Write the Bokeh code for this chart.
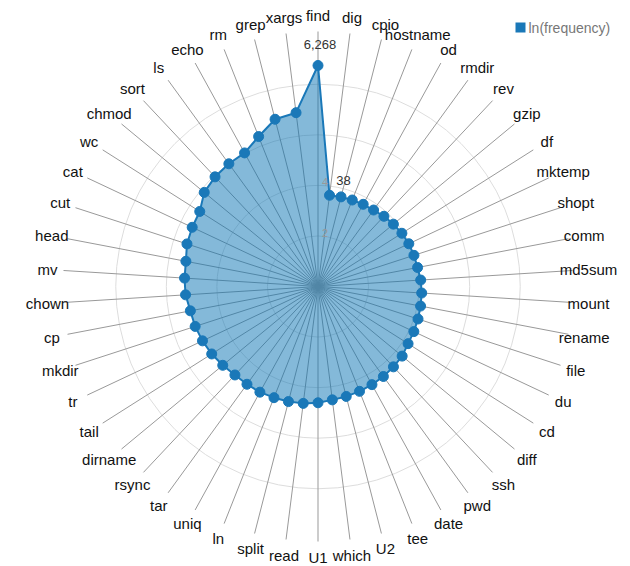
import numpy as np
from bokeh.plotting import figure
from bokeh.models import Range1d, Label, BoxAnnotation
from bokeh.core.properties import value
from bokeh.embed import file_html
from bokeh.resources import INLINE

# ---- data (clockwise from top) ----
commands = ["find", "dig", "cpio", "hostname", "od", "rmdir", "rev", "gzip", "df", "mktemp",
            "shopt", "comm", "md5sum", "mount", "rename", "file", "du", "cd", "diff", "ssh",
            "pwd", "date", "tee", "U2", "which", "U1", "read", "split", "ln", "uniq",
            "tar", "rsync", "dirname", "tail", "tr", "mkdir", "cp", "chown", "mv", "head",
            "cut", "cat", "wc", "chmod", "sort", "ls", "echo", "rm", "grep", "xargs"]
ln_freq = [8.743, 3.638, 3.66, 3.68, 3.71, 3.74, 3.81, 3.87, 3.93, 3.97,
           3.99, 4.01, 4.07, 4.11, 4.13, 4.16, 4.19, 4.22, 4.32, 4.36,
           4.40, 4.43, 4.46, 4.49, 4.52, 4.60, 4.66, 4.70, 4.73, 4.77,
           4.78, 4.80, 4.89, 4.98, 5.05, 5.11, 5.14, 5.25, 5.29, 5.32,
           5.45, 5.50, 5.54, 5.84, 5.95, 6.00, 6.03, 6.38, 6.83, 6.93]
series_name = "ln(frequency)"
max_label = "6,268"
min_label = "38"
grid_levels = [2, 4, 6, 8]
tick_values = [2, 4]
tick_labels = ["2", "4"]

# ---- layout ----
W, H = 630, 566
PX = 25.28            # pixels per unit
cx, cy = 317.5, 286   # centre in figure pixels
SPOKE_R = 255 / PX
LABEL_R = 271 / PX
LINE_C = "#1a78b8"
FILL_C = "#0a74b3"

p = figure(width=W, height=H,
           x_range=Range1d(-cx / PX, (W - cx) / PX),
           y_range=Range1d(-(H - cy) / PX, cy / PX),
           output_backend="svg", toolbar_location=None,
           x_axis_type=None, y_axis_type=None, min_border=0)
p.outline_line_color = None
p.grid.visible = False
p.background_fill_color = "white"
p.border_fill_color = "white"

n = len(commands)
ang = np.arange(n) * 2 * np.pi / n
sx, cy_ = np.sin(ang), np.cos(ang)
vals = np.array(ln_freq)

# grid circles
p.circle(x=[0] * len(grid_levels), y=[0] * len(grid_levels), radius=grid_levels,
         fill_color=None, line_color="#dddddd", line_width=1)

# spokes
p.segment(x0=np.zeros(n), y0=np.zeros(n), x1=SPOKE_R * sx, y1=SPOKE_R * cy_,
          line_color="#999999", line_width=1)

# area
px_, py_ = vals * sx, vals * cy_
p.patch(x=px_, y=py_, fill_color=FILL_C, fill_alpha=0.5,
        line_color=LINE_C, line_width=2)
p.scatter(x=px_, y=py_, size=10, marker="circle", fill_color=LINE_C,
          line_color=LINE_C)

# category labels
p.text(x=LABEL_R * sx, y=LABEL_R * cy_, text=commands, text_align="center",
       text_baseline="middle", text_font=value("Liberation Sans"),
       text_font_size="15px", text_color="#111111")

# radial tick labels
p.text(x=[0] * len(tick_values), y=tick_values, text=tick_labels, x_offset=7, y_offset=-3,
       text_align="center", text_baseline="middle", text_font=value("Liberation Sans"),
       text_font_size="11px", text_color="#999999")

# max / min value labels
i_max = int(np.argmax(vals)); i_min = int(np.argmin(vals))
p.text(x=[px_[i_max]], y=[py_[i_max]], text=[max_label], x_offset=2, y_offset=-21,
       text_align="center", text_baseline="middle", text_font=value("Liberation Sans"),
       text_font_size="13px", text_color="#333333")
p.text(x=[px_[i_min]], y=[py_[i_min]], text=[min_label], x_offset=14, y_offset=-15,
       text_align="center", text_baseline="middle", text_font=value("Liberation Sans"),
       text_font_size="13px", text_color="#333333")

# legend
p.add_layout(BoxAnnotation(left=515, right=525, top=H - 22, bottom=H - 32,
                           left_units="screen", right_units="screen",
                           top_units="screen", bottom_units="screen",
                           fill_color=LINE_C, fill_alpha=1, line_color=None))
p.add_layout(Label(x=528, y=H - 27, x_units="screen", y_units="screen",
                   text=series_name, text_baseline="middle",
                   text_font="Liberation Sans", text_font_size="14px",
                   text_color="#777777"))

open("out.html", "w").write(file_html(p, INLINE))
